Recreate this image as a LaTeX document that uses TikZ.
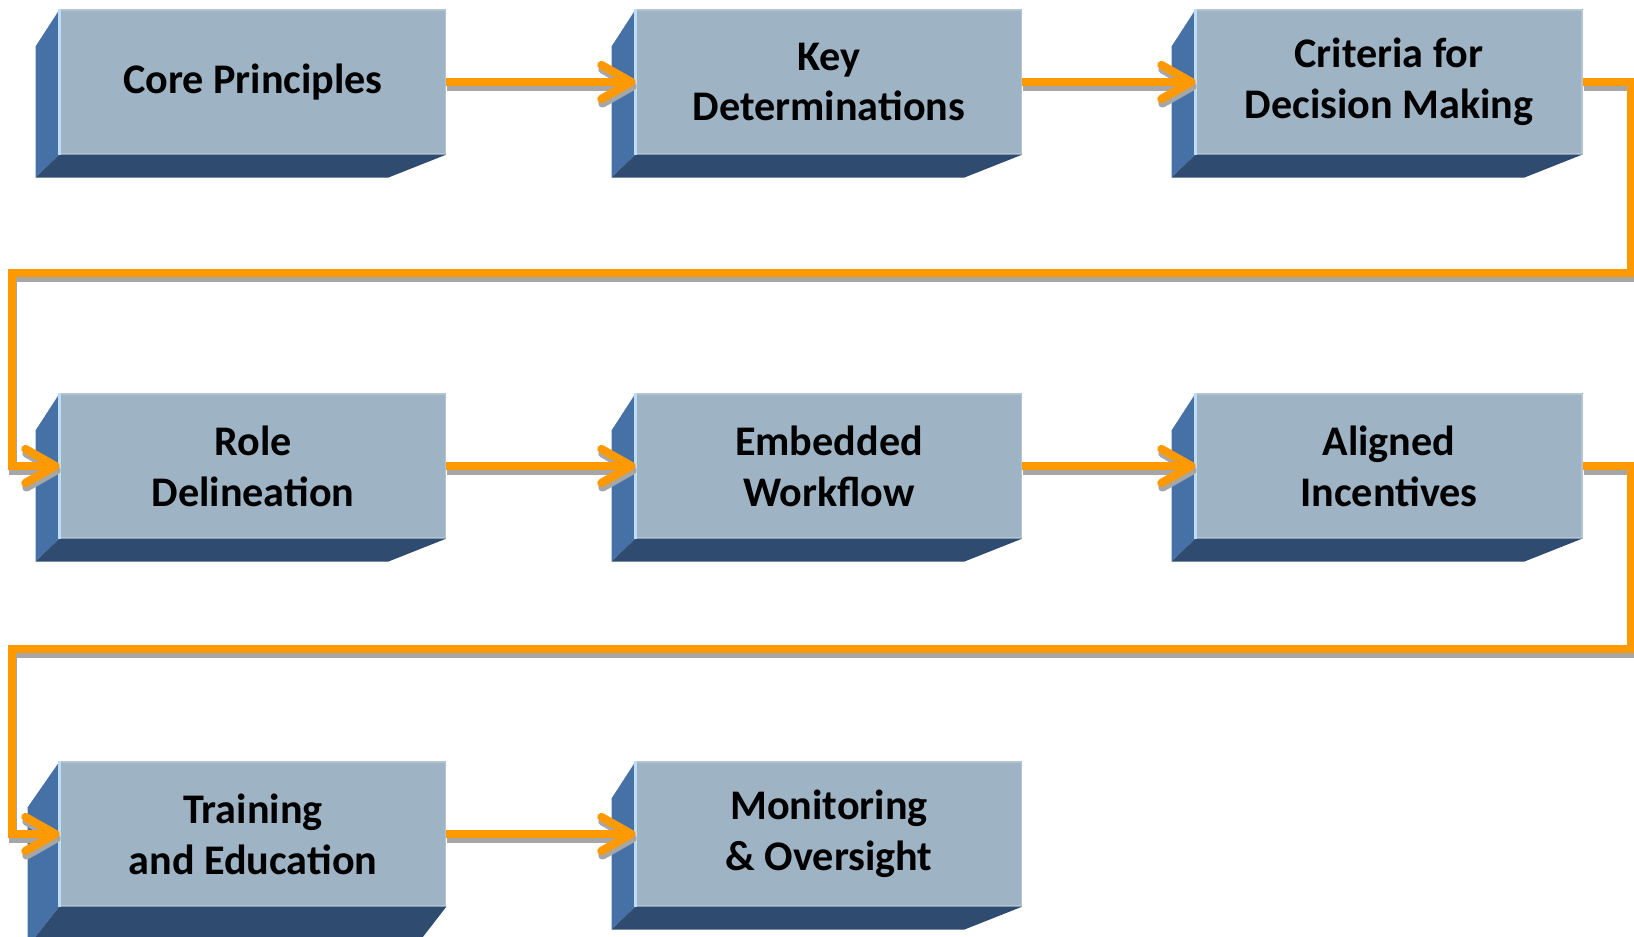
\documentclass[tikz,border=0pt]{standalone}
\usepackage{fontspec}
\setmainfont{Carlito}
\usetikzlibrary{arrows.meta,calc}

\definecolor{facegray}{HTML}{9EB3C4}
\definecolor{faceedge}{HTML}{B4C3CF}
\definecolor{sideblue}{HTML}{4571A7}
\definecolor{basenavy}{HTML}{2F4B6F}
\definecolor{edgelight}{HTML}{BFDDF2}
\definecolor{floworange}{HTML}{FF9900}
\definecolor{flowshade}{HTML}{A6A6A6}

\tikzset{
  stepbox/.style={rectangle, fill=facegray, draw=faceedge, line width=0.6pt,
    minimum width=7.72cm, minimum height=2.88cm, inner sep=0pt, align=center,
    font=\fontsize{24}{29}\selectfont\bfseries},
  link/.style={draw=floworange, line width=4.7pt,
    -{Straight Barb[length=0.6cm,width=0.68cm,round]}},
  linkshadow/.style={link, draw=flowshade,
    transform canvas={shift={(0.02cm,-0.09cm)}}},
}

\begin{document}
\begin{tikzpicture}[x=0.02cm,y=-0.02cm]
  \useasboundingbox (0,0) rectangle (1634,937);

  % front faces
  \node[stepbox] (core)  at (253,82)   {Core Principles};
  \node[stepbox] (key)   at (829,82)   {Key\\Determinations};
  \node[stepbox] (crit)  at (1389,82)  {Criteria for\\Decision Making};
  \node[stepbox] (role)  at (253,466)  {Role\\Delineation};
  \node[stepbox] (embed) at (829,466)  {Embedded\\Workflow};
  \node[stepbox] (align) at (1389,466) {Aligned\\Incentives};
  \node[stepbox] (train) at (253,834)  {Training\\and Education};
  \node[stepbox] (moni)  at (829,834)  {Monitoring\\\& Oversight};

  % side and bottom faces
  \foreach \n/\sx/\by/\bd/\rx in {core/24/37/23/58, key/24/37/23/58, crit/24/37/23/58,
      role/24/37/23/58, embed/24/37/23/58, align/24/37/23/58,
      train/32/46/40/31, moni/24/37/23/58} {
    \fill[sideblue] (\n.north west) -- ++(-\sx,\by) -- ($(\n.south west)+(-\sx,\bd)$)
      -- (\n.south west) -- cycle;
    \fill[basenavy] (\n.south west) -- (\n.south east) -- ++(-\rx,\bd)
      -- ($(\n.south west)+(-\sx,\bd)$) -- cycle;
    \draw[edgelight, line width=1.2pt] (\n.north west) -- (\n.south west);
  }

  \coordinate (turn1) at (12,273);
  \coordinate (turn2) at (12,649);

  % connectors, shadow first
  \foreach \s in {linkshadow,link} {
    \draw[\s] (core.east) -- (key.west);
    \draw[\s] (key.east) -- (crit.west);
    \draw[\s] (crit.east) -- ++(49,0) |- (turn1) |- (role.west);
    \draw[\s] (role.east) -- (embed.west);
    \draw[\s] (embed.east) -- (align.west);
    \draw[\s] (align.east) -- ++(49,0) |- (turn2) |- (train.west);
    \draw[\s] (train.east) -- (moni.west);
  }
\end{tikzpicture}
\end{document}
